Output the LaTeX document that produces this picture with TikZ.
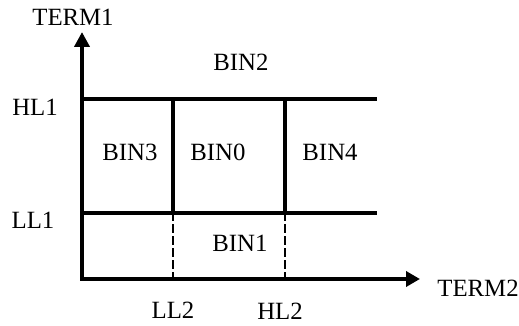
\documentclass[tikz,border=0pt]{standalone}
\usepackage{fontspec}
\setmainfont{Liberation Serif}
\usetikzlibrary{arrows.meta}

\begin{document}
\begin{tikzpicture}[x=0.5pt, y=-0.5pt, line cap=rect,
	binline/.style={line width=2pt},
	guide/.style={line width=0.6pt, dash pattern=on 3.5pt off 2.5pt},
	lbl/.style={inner sep=0pt, anchor=center, font=\fontsize{12.4}{14}\selectfont}]
	\useasboundingbox (0, 0) rectangle (519, 326);
	% Axes:
	\coordinate (o) at (82, 279);
	\coordinate (ytip) at (82, 32);
	\coordinate (xtip) at (420, 279);
	\draw[binline, -{Triangle[length=7.5pt, width=7.5pt]}] (o) -- (ytip);
	\draw[binline, -{Triangle[length=7pt, width=7.5pt]}] (o) -- (xtip);
	% Limits:
	\coordinate (hl1a) at (82, 99);
	\coordinate (hl1b) at (375, 99);
	\coordinate (ll1a) at (82, 213);
	\coordinate (ll1b) at (375, 213);
	\coordinate (ll2t) at (173, 99);
	\coordinate (ll2m) at (173, 213);
	\coordinate (ll2b) at (173, 279);
	\coordinate (hl2t) at (285, 99);
	\coordinate (hl2m) at (285, 213);
	\coordinate (hl2b) at (285, 279);
	\draw[binline] (hl1a) -- (hl1b);
	\draw[binline] (ll1a) -- (ll1b);
	\draw[binline] (ll2t) -- (ll2m);
	\draw[binline] (hl2t) -- (hl2m);
	\draw[guide] (ll2m) -- (ll2b);
	\draw[guide] (hl2m) -- (hl2b);
	% Labels:
	\node[lbl] (term1) at (73, 17) {TERM1};
	\node[lbl] (term2) at (478, 288) {TERM2};
	\node[lbl] (hl1) at (35, 107) {HL1};
	\node[lbl] (ll1) at (33, 220) {LL1};
	\node[lbl] (ll2) at (173, 310) {LL2};
	\node[lbl] (hl2) at (280, 311) {HL2};
	\node[lbl] (bin2) at (241, 62) {BIN2};
	\node[lbl] (bin3) at (130, 152) {BIN3};
	\node[lbl] (bin0) at (218, 152) {BIN0};
	\node[lbl] (bin4) at (330, 152) {BIN4};
	\node[lbl] (bin1) at (240, 243) {BIN1};
\end{tikzpicture}
\end{document}
